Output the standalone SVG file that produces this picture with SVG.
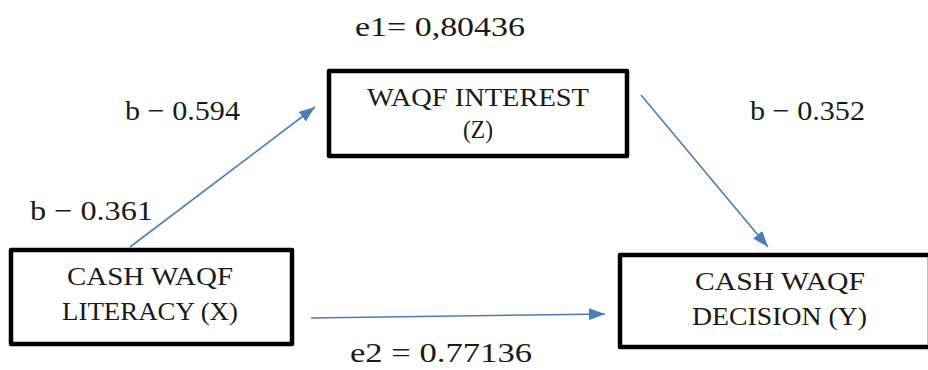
<svg xmlns="http://www.w3.org/2000/svg" width="928" height="370" viewBox="0 0 928 370">
<defs>
<marker id="ah" viewBox="0 0 16 12" refX="16" refY="6" markerWidth="16" markerHeight="12" markerUnits="userSpaceOnUse" orient="auto">
<path d="M0,0 L16,6 L0,12 Z" fill="#4a7ebb"/>
</marker>
<style>
.box{fill:#fff;stroke:#000;stroke-width:4.5;stroke-linejoin:round}
.t{font-family:"Liberation Serif","DejaVu Serif",serif;fill:#1a1a1a;font-size:24.5px}
.l{font-family:"Liberation Serif","DejaVu Serif",serif;fill:#1a1a1a;font-size:28px}
.c{stroke:#4a7ebb;stroke-width:1.6;fill:none;marker-end:url(#ah)}
</style>
</defs>
<rect width="928" height="370" fill="#fff"/>
<g id="connectors">
<line class="c" x1="130" y1="247" x2="315" y2="107"/>
<line class="c" x1="641" y1="95" x2="768" y2="247"/>
<line class="c" x1="311" y1="318" x2="605" y2="314"/>
</g>
<g id="node-z">
<rect class="box" x="329" y="71" width="298" height="85"/>
<text class="t" x="367" y="106" textLength="222" lengthAdjust="spacingAndGlyphs">WAQF INTEREST</text>
<text class="t" x="463" y="138" textLength="30" lengthAdjust="spacingAndGlyphs">(Z)</text>
</g>
<g id="node-x">
<rect class="box" x="11" y="250" width="281" height="94"/>
<text class="t" x="67" y="285" textLength="166" lengthAdjust="spacingAndGlyphs">CASH WAQF</text>
<text class="t" x="62" y="320" textLength="176" lengthAdjust="spacingAndGlyphs">LITERACY (X)</text>
</g>
<g id="node-y">
<rect class="box" x="620" y="255" width="310" height="92"/>
<text class="t" x="695" y="290" textLength="170" lengthAdjust="spacingAndGlyphs">CASH WAQF</text>
<text class="t" x="692" y="325" textLength="175" lengthAdjust="spacingAndGlyphs">DECISION (Y)</text>
</g>
<g id="labels">
<text class="l" x="355" y="36" textLength="170" lengthAdjust="spacingAndGlyphs">e1= 0,80436</text>
<text class="l" x="125" y="120" textLength="115" lengthAdjust="spacingAndGlyphs">b − 0.594</text>
<text class="l" x="30" y="220" font-size="31" textLength="123" lengthAdjust="spacingAndGlyphs">b − 0.361</text>
<text class="l" x="750" y="120" textLength="115" lengthAdjust="spacingAndGlyphs">b − 0.352</text>
<text class="l" x="350" y="362" textLength="182" lengthAdjust="spacingAndGlyphs">e2 = 0.77136</text>
</g>
</svg>
